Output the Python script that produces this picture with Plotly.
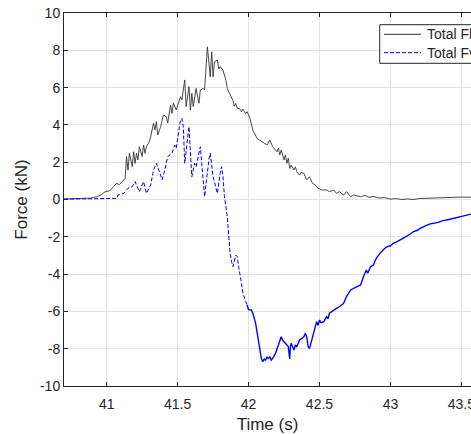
import plotly.graph_objects as go

# ---- data ----
fh_t = [40.70, 40.80, 40.88, 40.93, 40.96, 40.99, 41.02, 41.05, 41.07, 41.09, 41.11, 41.13, 41.14, 41.15, 41.16,
        41.18, 41.19, 41.20, 41.21, 41.22, 41.23, 41.25, 41.26, 41.27, 41.28, 41.30, 41.31, 41.33, 41.34, 41.35,
        41.36, 41.38, 41.40, 41.42, 41.43, 41.45, 41.46, 41.47, 41.49, 41.52, 41.53, 41.55, 41.56, 41.58, 41.59,
        41.60, 41.61, 41.62, 41.63, 41.65, 41.66, 41.68, 41.69, 41.71, 41.72, 41.73, 41.74, 41.75, 41.76, 41.78,
        41.79, 41.80, 41.82, 41.84, 41.85, 41.87, 41.89, 41.90, 41.91, 41.92, 41.94, 41.95, 41.96, 41.98, 41.99,
        42.01, 42.03, 42.06, 42.08, 42.10, 42.13, 42.15, 42.17, 42.20, 42.21, 42.22, 42.23, 42.25, 42.26, 42.27,
        42.28, 42.29, 42.30, 42.32, 42.33, 42.34, 42.36, 42.37, 42.39, 42.41, 42.43, 42.45, 42.47, 42.49, 42.52,
        42.55, 42.57, 42.60, 42.62, 42.64, 42.67, 42.69, 42.72, 42.74, 42.77, 42.79, 42.82, 42.85, 42.88, 42.92,
        42.96, 43.00, 43.04, 43.08, 43.12, 43.16, 43.20, 43.25, 43.30, 43.35, 43.40, 43.45, 43.50, 43.57]
fh_v = [0.03, 0.04, 0.07, 0.15, 0.25, 0.42, 0.46, 0.70, 0.87, 0.80, 0.96, 1.14, 2.30, 1.58, 2.48,
        1.76, 2.56, 1.94, 2.48, 2.12, 2.83, 2.30, 2.92, 2.48, 2.83, 3.10, 3.37, 4.09, 3.73, 4.17,
        3.46, 3.90, 4.53, 4.44, 4.10, 5.07, 4.62, 5.16, 4.80, 5.51, 5.34, 6.41, 4.98, 6.05, 4.80,
        5.69, 4.98, 5.51, 5.96, 5.16, 5.87, 5.96, 5.87, 8.19, 7.12, 6.58, 7.92, 6.58, 7.39, 7.48,
        7.00, 7.12, 6.94, 6.40, 5.96, 5.60, 5.30, 5.00, 5.15, 4.90, 4.85, 4.70, 4.85, 4.60, 4.71,
        4.35, 3.73, 3.28, 3.19, 3.10, 2.92, 3.19, 2.83, 2.56, 2.75, 2.39, 2.65, 2.12, 2.39, 1.94,
        2.21, 1.67, 1.85, 1.58, 1.75, 1.49, 1.31, 1.45, 1.40, 1.05, 1.22, 0.87, 0.78, 0.60, 0.51,
        0.51, 0.42, 0.51, 0.33, 0.42, 0.24, 0.42, 0.15, 0.24, 0.18, 0.15, 0.22, 0.12, 0.16, 0.08,
        0.10, 0.02, 0.05, 0.00, 0.03, 0.00, 0.05, 0.06, 0.09, 0.11, 0.13, 0.12, 0.13, 0.12]

fv_t = [40.70, 40.85, 41.00, 41.07, 41.08, 41.12, 41.15, 41.18, 41.20, 41.21, 41.23, 41.25, 41.26, 41.28, 41.31,
        41.33, 41.35, 41.38, 41.39, 41.41, 41.43, 41.46, 41.48, 41.49, 41.52, 41.53, 41.54, 41.55, 41.58, 41.60,
        41.62, 41.63, 41.66, 41.68, 41.69, 41.72, 41.73, 41.75, 41.78, 41.80, 41.81, 41.82, 41.83, 41.85, 41.86,
        41.87, 41.88, 41.89, 41.91, 41.92, 41.93, 41.94, 41.95, 41.96, 41.98, 41.99,
        42.00, 42.02, 42.03, 42.05, 42.06, 42.07, 42.08, 42.09, 42.10, 42.11, 42.12, 42.13, 42.14, 42.15, 42.16,
        42.17, 42.19, 42.21, 42.22, 42.23, 42.24, 42.25, 42.26, 42.28, 42.29, 42.295, 42.30, 42.32, 42.33, 42.34,
        42.36, 42.39, 42.40, 42.41, 42.42, 42.43, 42.45, 42.46, 42.47, 42.48, 42.49, 42.50, 42.51, 42.53, 42.55,
        42.56, 42.57, 42.60, 42.62, 42.64, 42.67, 42.69, 42.72, 42.74, 42.76, 42.79, 42.81, 42.83, 42.84, 42.86,
        42.88, 42.90, 42.93, 42.95, 42.97, 43.00, 43.02, 43.05, 43.07, 43.09, 43.11, 43.14, 43.16, 43.19, 43.21,
        43.25, 43.28, 43.33, 43.37, 43.42, 43.47, 43.51, 43.57]
fv_v = [0.02, 0.02, 0.03, 0.06, 0.24, 0.33, 0.60, 0.69, 0.96, 0.78, 0.42, 0.78, 0.96, 0.33, 0.78,
        1.58, 1.94, 1.31, 1.05, 1.58, 2.30, 2.48, 2.92, 2.75, 4.26, 4.35, 3.90, 1.94, 3.90, 1.22,
        1.94, 1.76, 2.83, 1.05, 0.15, 2.12, 2.48, 1.22, 0.33, 1.40, 1.76, 1.22, 0.15, -0.92, -1.99,
        -2.89, -3.33, -3.60, -2.98, -3.07, -3.60, -3.96, -4.49, -5.03, -5.39, -5.66,
        -5.92, -5.92, -6.10, -6.64, -7.17, -7.71, -8.25, -8.52, -8.70, -8.55, -8.61, -8.45, -8.52, -8.43, -8.61,
        -8.52, -8.25, -7.80, -7.53, -7.36, -7.55, -7.62, -7.71, -7.89, -8.55, -7.89, -7.71, -8.07, -7.80, -7.89,
        -7.53, -7.36, -7.17, -7.36, -7.89, -7.98, -7.36, -7.00, -6.73, -6.55, -6.75, -6.46, -6.60, -6.55, -6.28,
        -6.40, -6.10, -5.92, -5.84, -5.75, -5.57, -5.21, -4.85, -4.76, -4.68, -4.58, -4.14, -3.78, -3.95, -3.60,
        -3.51, -3.15, -2.85, -2.71, -2.55, -2.48, -2.35, -2.25, -2.17, -2.10, -1.99, -1.85, -1.73, -1.65, -1.55,
        -1.40, -1.31, -1.24, -1.13, -1.06, -0.96, -0.88, -0.78]

x_tickvals = [41, 41.5, 42, 42.5, 43, 43.5]
x_ticktext = ["41", "41.5", "42", "42.5", "43", "43.5"]
y_tickvals = [-10, -8, -6, -4, -2, 0, 2, 4, 6, 8, 10]
y_ticktext = ["-10", "-8", "-6", "-4", "-2", "0", "2", "4", "6", "8", "10"]

series_names = ["Total Fh", "Total Fv"]
series_colors = ["#333333", "#0000ff"]
series_dash = ["solid", "4px,2px"]

FONT = "Liberation Sans, Arial"

# split index for the blue trace: dashed part / dense (looks solid) part
split = fv_t.index(41.99) + 1

fig = go.Figure()
fig.add_trace(go.Scatter(x=fh_t, y=fh_v, mode="lines", name=series_names[0], showlegend=False,
                         line=dict(color=series_colors[0], width=0.9)))
fig.add_trace(go.Scatter(x=fv_t[:split], y=fv_v[:split], mode="lines", name=series_names[1], showlegend=False,
                         line=dict(color=series_colors[1], width=1, dash=series_dash[1])))
fig.add_trace(go.Scatter(x=fv_t[split - 1:], y=fv_v[split - 1:], mode="lines", showlegend=False,
                         line=dict(color=series_colors[1], width=1.4)))

axis_common = dict(showgrid=True, gridcolor="#e3e3e3", gridwidth=1, zeroline=False,
                   showline=True, linecolor="#262626", linewidth=1,
                   ticks="inside", ticklen=4, tickcolor="#262626",
                   tickfont=dict(family=FONT, size=14, color="#262626"))

fig.update_xaxes(range=[40.699, 43.568], tickvals=x_tickvals, ticktext=x_ticktext, mirror="ticks",
                 ticklabeloverflow="allow", ticklabelstandoff=5,
                 title=dict(text="Time (s)", font=dict(family=FONT, size=17, color="#262626"), standoff=8),
                 **axis_common)
fig.update_yaxes(range=[-10, 10], tickvals=y_tickvals, ticktext=y_ticktext, mirror=False,
                 title=dict(text="Force (kN)", font=dict(family=FONT, size=17, color="#262626"), standoff=8),
                 **axis_common)

# manual legend (box extends past the right edge, as in the reference)
PW, PH, L, B = 407.0, 373.0, 64.0, 48.0
def px(x):
    return (x - L) / PW
def py(y):
    return (434 - B - y) / PH

shapes = [dict(type="rect", xref="paper", yref="paper", x0=px(379.7), x1=px(540), y0=py(63.3), y1=py(24.7),
               line=dict(color="#262626", width=1), fillcolor="white", layer="above")]
annotations = []
rows = [34.3, 52.7]
for i, name in enumerate(series_names):
    shapes.append(dict(type="line", xref="paper", yref="paper", x0=px(384), x1=px(421), y0=py(rows[i]),
                       y1=py(rows[i]), line=dict(color=series_colors[i], width=1, dash=series_dash[i]),
                       layer="above"))
    annotations.append(dict(xref="paper", yref="paper", x=px(425), y=py(rows[i]), text=name, showarrow=False,
                            xanchor="left", yanchor="middle", font=dict(family=FONT, size=14, color="#262626")))

fig.update_layout(
    width=471, height=434,
    margin=dict(l=64, r=0, t=13, b=48, autoexpand=False),
    plot_bgcolor="white", paper_bgcolor="white",
    shapes=shapes, annotations=annotations,
)

fig.write_html("out.html")
